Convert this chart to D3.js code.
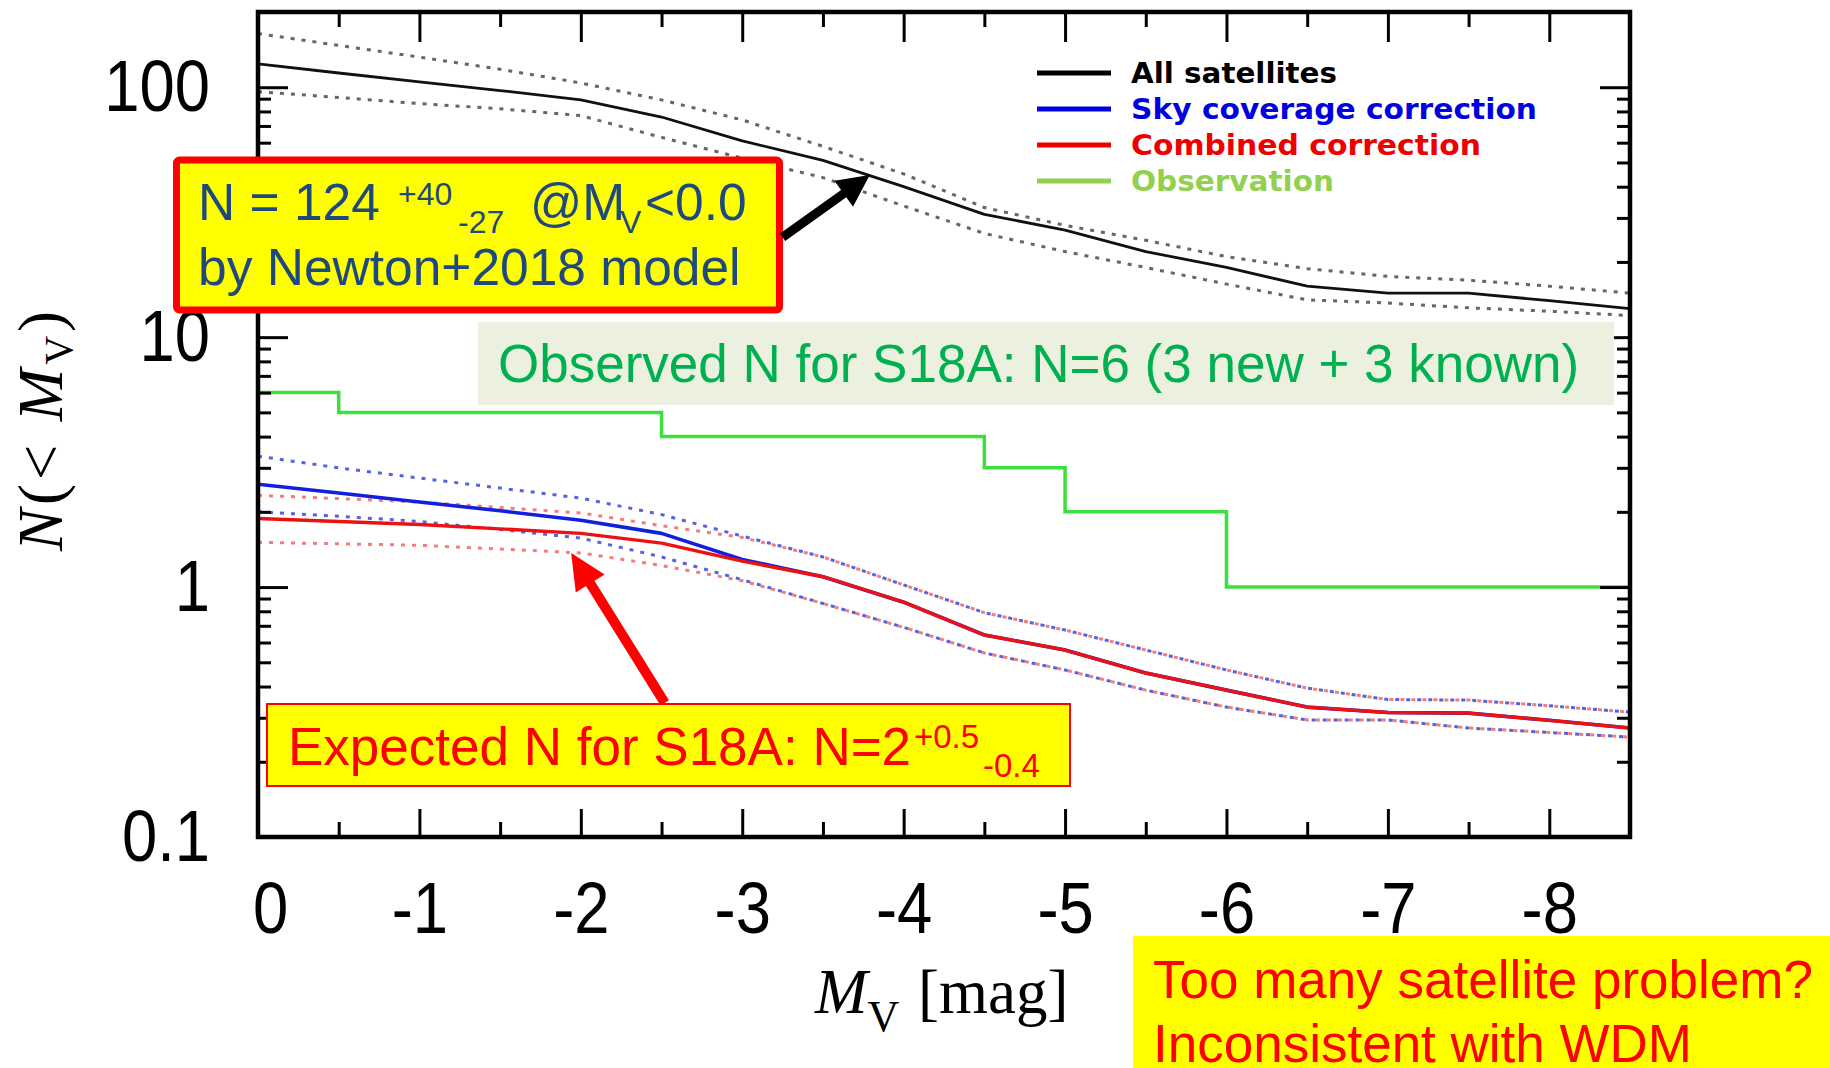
<!DOCTYPE html>
<html>
<head>
<meta charset="utf-8">
<script src="https://cdn.jsdelivr.net/npm/d3@7"></script>
<style>
  body { margin: 0; background: #fff; }
  text { font-family: "Liberation Sans", Arial, sans-serif; }
</style>
</head>
<body>
<svg id="chart" width="1830" height="1068"></svg>
<script>
// Cumulative luminosity function of satellites, N(<M_V)
const magnitudes = [0, -0.5, -1, -1.5, -2, -2.5, -3, -3.5, -4, -4.5, -5, -5.5, -6, -6.5, -7, -7.5, -8, -8.5];

// All satellites (model) with its upper / lower bounds
const allSatellites   = [124, 114, 105, 97, 89, 76, 61, 51, 40, 31, 26.8, 22, 19, 16.0, 15.0, 15.0, 14.0, 13.0];
const allSatellitesHi = [164, 147, 132, 118, 104, 89, 74, 58, 45, 33, 28, 24.4, 21, 18.8, 17.5, 16.9, 16.0, 15.0];
const allSatellitesLo = [96, 91, 86, 82, 77, 63, 52, 43.5, 33.5, 26, 22, 19, 16.3, 14.1, 13.7, 13.1, 12.7, 12.2];

// Sky coverage correction
const skyCoverage   = [2.58, 2.38, 2.19, 2.02, 1.85, 1.64, 1.29, 1.10, 0.87, 0.643, 0.56, 0.453, 0.387, 0.331, 0.315, 0.313, 0.293, 0.273];
const skyCoverageHi = [3.34, 3.0, 2.73, 2.49, 2.27, 1.95, 1.6, 1.32, 1.02, 0.79, 0.673, 0.56, 0.466, 0.394, 0.355, 0.353, 0.335, 0.316];
const skyCoverageLo = [2.0, 1.92, 1.83, 1.70, 1.57, 1.32, 1.07, 0.86, 0.69, 0.545, 0.466, 0.387, 0.331, 0.294, 0.294, 0.273, 0.262, 0.251];

// Combined correction
const combined   = [1.88, 1.83, 1.78, 1.71, 1.64, 1.50, 1.27, 1.10, 0.87, 0.643, 0.56, 0.453, 0.387, 0.331, 0.315, 0.313, 0.293, 0.273];
const combinedHi = [2.33, 2.26, 2.19, 2.08, 1.98, 1.76, 1.58, 1.32, 1.02, 0.79, 0.673, 0.56, 0.466, 0.394, 0.355, 0.353, 0.335, 0.316];
const combinedLo = [1.51, 1.49, 1.47, 1.42, 1.37, 1.22, 1.06, 0.86, 0.69, 0.545, 0.466, 0.387, 0.331, 0.294, 0.294, 0.273, 0.262, 0.251];

// Observed satellites (step function)
const obsMagnitudes = [0, -0.5, -2.5, -4.5, -5, -6, -8.5];
const obsCounts     = [6, 5, 4, 3, 2, 1, 1];

// Axis ticks
const xMajorTicks = [0, -1, -2, -3, -4, -5, -6, -7, -8];
const xMinorTicks = [-0.5, -1.5, -2.5, -3.5, -4.5, -5.5, -6.5, -7.5];
const yMajorTicks = [0.1, 1, 10, 100];
const yMinorTicks = [0.2, 0.3, 0.4, 0.5, 0.6, 0.7, 0.8, 0.9, 2, 3, 4, 5, 6, 7, 8, 9, 20, 30, 40, 50, 60, 70, 80, 90, 200];

// Legend entries
const legendLabels = ["All satellites", "Sky coverage correction", "Combined correction", "Observation"];
const legendColors = ["#000000", "#0000e0", "#ee0000", "#92d050"];

const svg = d3.select("#chart");
svg.append("rect").attr("width", 1830).attr("height", 1068).attr("fill", "#fff");

const plot = { left: 258, right: 1630, top: 12, bottom: 837 };
const x = d3.scaleLinear().domain([0, -8.5]).range([plot.left, plot.right]);
const y = d3.scaleLog().domain([0.1, 200]).range([plot.bottom, plot.top]);

svg.append("clipPath").attr("id", "plotClip")
  .append("rect")
  .attr("x", plot.left).attr("y", plot.top)
  .attr("width", plot.right - plot.left).attr("height", plot.bottom - plot.top);

const curves = svg.append("g").attr("clip-path", "url(#plotClip)");

const line = d3.line().x(d => x(d[0])).y(d => y(d[1]));
const pairs = vals => magnitudes.map((m, i) => [m, vals[i]]);

function drawCurve(vals, color, width, dash, opacity) {
  curves.append("path")
    .datum(pairs(vals))
    .attr("d", line)
    .attr("fill", "none")
    .attr("stroke", color)
    .attr("stroke-width", width)
    .attr("stroke-dasharray", dash || null)
    .attr("stroke-opacity", opacity == null ? 1 : opacity)
    .attr("stroke-linejoin", "round");
}

// model bands (dotted)
drawCurve(allSatellitesHi, "#666", 3, "4,7");
drawCurve(allSatellitesLo, "#666", 3, "4,7");
drawCurve(skyCoverageHi, "#3848d8", 3, "4,7", 0.85);
drawCurve(skyCoverageLo, "#3848d8", 3, "4,7", 0.85);
drawCurve(combinedHi, "#ee4444", 3, "4,7", 0.7);
drawCurve(combinedLo, "#ee4444", 3, "4,7", 0.7);

// observation step line
curves.append("path")
  .datum(obsMagnitudes.map((m, i) => [m, obsCounts[i]]))
  .attr("d", d3.line().x(d => x(d[0])).y(d => y(d[1])).curve(d3.curveStepAfter))
  .attr("fill", "none")
  .attr("stroke", "#3be03b")
  .attr("stroke-width", 3.5);

// model medians
drawCurve(allSatellites, "#111", 2.8);
drawCurve(skyCoverage, "#1020e0", 3.6);
drawCurve(combined, "#ee1111", 3.4);

// axes: ticks point inward on all four sides
function styleAxis(g) {
  g.select(".domain").remove();
  g.selectAll(".tick line").attr("stroke", "#000").attr("stroke-width", 3);
  g.selectAll("text")
    .attr("fill", "#000")
    .style("font-family", "'Liberation Sans', Arial, sans-serif")
    .style("font-size", "72px");
}
const fmt = d => String(d);

svg.append("g").attr("transform", `translate(0,${plot.bottom})`)
  .call(d3.axisBottom(x).tickValues(xMajorTicks).tickSize(-28).tickSizeOuter(0).tickPadding(45).tickFormat(fmt))
  .call(styleAxis).attr("class", "xlabels");
svg.append("g").attr("transform", `translate(0,${plot.bottom})`)
  .call(d3.axisBottom(x).tickValues(xMinorTicks).tickSize(-15).tickSizeOuter(0).tickFormat(""))
  .call(styleAxis);
svg.append("g").attr("transform", `translate(0,${plot.top})`)
  .call(d3.axisTop(x).tickValues(xMajorTicks).tickSize(-30).tickSizeOuter(0).tickFormat(""))
  .call(styleAxis);
svg.append("g").attr("transform", `translate(0,${plot.top})`)
  .call(d3.axisTop(x).tickValues(xMinorTicks).tickSize(-15).tickSizeOuter(0).tickFormat(""))
  .call(styleAxis);

svg.append("g").attr("transform", `translate(${plot.left},0)`)
  .call(d3.axisLeft(y).tickValues(yMajorTicks).tickSize(-30).tickSizeOuter(0).tickPadding(48).tickFormat(fmt))
  .call(styleAxis).attr("class", "ylabels");
svg.append("g").attr("transform", `translate(${plot.left},0)`)
  .call(d3.axisLeft(y).tickValues(yMinorTicks).tickSize(-13).tickSizeOuter(0).tickFormat(""))
  .call(styleAxis);
svg.append("g").attr("transform", `translate(${plot.right},0)`)
  .call(d3.axisRight(y).tickValues(yMajorTicks).tickSize(-30).tickSizeOuter(0).tickFormat(""))
  .call(styleAxis);
svg.append("g").attr("transform", `translate(${plot.right},0)`)
  .call(d3.axisRight(y).tickValues(yMinorTicks).tickSize(-13).tickSizeOuter(0).tickFormat(""))
  .call(styleAxis);

// slightly condensed tick labels; the zero label sits a little right of its tick
svg.selectAll(".xlabels text, .ylabels text").each(function(d) {
  const w = this.getComputedTextLength();
  d3.select(this).attr("textLength", w * 0.88).attr("lengthAdjust", "spacingAndGlyphs");
});
svg.selectAll(".xlabels text").filter(d => d === 0).attr("dx", 12);

// frame
svg.append("rect")
  .attr("x", plot.left).attr("y", plot.top)
  .attr("width", plot.right - plot.left).attr("height", plot.bottom - plot.top)
  .attr("fill", "none").attr("stroke", "#000").attr("stroke-width", 4.5);

// axis titles
const serif = "'Liberation Serif', 'Times New Roman', serif";
const yTitle = svg.append("text")
  .attr("transform", "translate(62,431) rotate(-90)")
  .attr("text-anchor", "middle")
  .attr("textLength", 240).attr("lengthAdjust", "spacing")
  .style("font-family", serif).style("font-size", "63px").attr("fill", "#000");
yTitle.append("tspan").style("font-style", "italic").text("N");
yTitle.append("tspan").text("(< ");
yTitle.append("tspan").style("font-style", "italic").text("M");
yTitle.append("tspan").attr("dy", 10).style("font-size", "40px").text("V");
yTitle.append("tspan").attr("dy", -10).text(")");

const xTitle = svg.append("text")
  .attr("x", 815).attr("y", 1013)
  .style("font-family", serif).style("font-size", "63px").attr("fill", "#000");
xTitle.append("tspan").style("font-style", "italic").text("M");
xTitle.append("tspan").attr("dy", 18).style("font-size", "44px").text("V");
xTitle.append("tspan").attr("dy", -18).attr("x", 918).text("[mag]");

// legend
const legend = svg.append("g");
legendLabels.forEach((label, i) => {
  const ly = 73 + i * 36;
  legend.append("line")
    .attr("x1", 1037).attr("x2", 1111).attr("y1", ly).attr("y2", ly)
    .attr("stroke", legendColors[i]).attr("stroke-width", 5);
  legend.append("text")
    .attr("x", 1131).attr("y", ly + 10)
    .style("font-family", "'DejaVu Sans', Verdana, sans-serif")
    .style("font-weight", "bold").style("font-size", "29px")
    .attr("fill", legendColors[i]).text(label);
});
const legendWidths = [206, 406, 350, 203];
legend.selectAll("text").each(function(d, i) {
  d3.select(this).attr("textLength", legendWidths[i]).attr("lengthAdjust", "spacingAndGlyphs");
});

// arrow helper: filled shaft + head from tail to tip
function arrow(x1, y1, x2, y2, shaftW, headL, headW, color) {
  const dx = x2 - x1, dy = y2 - y1, len = Math.hypot(dx, dy);
  const ux = dx / len, uy = dy / len, px = -uy, py = ux;
  const bx = x2 - ux * headL, by = y2 - uy * headL;
  const pts = [
    [x1 + px * shaftW / 2, y1 + py * shaftW / 2],
    [bx + px * shaftW / 2, by + py * shaftW / 2],
    [bx + px * headW / 2, by + py * headW / 2],
    [x2, y2],
    [bx - px * headW / 2, by - py * headW / 2],
    [bx - px * shaftW / 2, by - py * shaftW / 2],
    [x1 - px * shaftW / 2, y1 - py * shaftW / 2]
  ];
  svg.append("polygon").attr("points", pts.map(p => p.join(",")).join(" ")).attr("fill", color);
}

// model total callout
svg.append("rect").attr("x", 176.5).attr("y", 160).attr("width", 603).attr("height", 150)
  .attr("rx", 3).attr("fill", "#ffff00").attr("stroke", "#ff0000").attr("stroke-width", 7);
const navy = "#1f497d";
const t1 = svg.append("text").attr("y", 220).attr("fill", navy).style("font-size", "51.5px");
t1.append("tspan").attr("x", 198).text("N = 124");
t1.append("tspan").attr("x", 398).attr("y", 205).style("font-size", "32px").text("+40");
t1.append("tspan").attr("x", 458).attr("y", 233).style("font-size", "32px").text("-27");
t1.append("tspan").attr("x", 530).attr("y", 220).text("@M");
t1.append("tspan").attr("x", 620).attr("y", 233).style("font-size", "32px").text("V");
t1.append("tspan").attr("x", 645).attr("y", 220).text("<0.0");
svg.append("text").attr("x", 198).attr("y", 285).attr("fill", navy).style("font-size", "51.5px")
  .text("by Newton+2018 model");

arrow(x(-3.25), y(25.1), x(-3.79), y(44.5), 9, 32, 32, "#000");

// observed count callout
svg.append("rect").attr("x", 478).attr("y", 322).attr("width", 1136).attr("height", 83).attr("fill", "#ebf1de");
svg.append("text").attr("x", 498).attr("y", 382).attr("fill", "#00b050").style("font-size", "53px")
  .text("Observed N for S18A: N=6 (3 new + 3 known)");

// expected count callout
arrow(x(-2.52), y(0.344), x(-1.94), y(1.37), 10, 36, 34, "#ff0000");
svg.append("rect").attr("x", 267).attr("y", 704).attr("width", 803).attr("height", 82)
  .attr("fill", "#ffff00").attr("stroke", "#ff0000").attr("stroke-width", 2);
const t2 = svg.append("text").attr("y", 765).attr("fill", "#ff0000").style("font-size", "53px");
t2.append("tspan").attr("x", 288).text("Expected N for S18A: N=2");
t2.append("tspan").attr("x", 914).attr("y", 748).style("font-size", "33px").text("+0.5");
t2.append("tspan").attr("x", 983).attr("y", 777).style("font-size", "33px").text("-0.4");

// conclusion box
svg.append("rect").attr("x", 1133).attr("y", 936).attr("width", 697).attr("height", 132).attr("fill", "#ffff00");
svg.append("text").attr("x", 1153).attr("y", 998).attr("fill", "#ff0000").style("font-size", "53px")
  .text("Too many satellite problem?");
svg.append("text").attr("x", 1153).attr("y", 1062).attr("fill", "#ff0000").style("font-size", "53px")
  .text("Inconsistent with WDM");
</script>
</body>
</html>
